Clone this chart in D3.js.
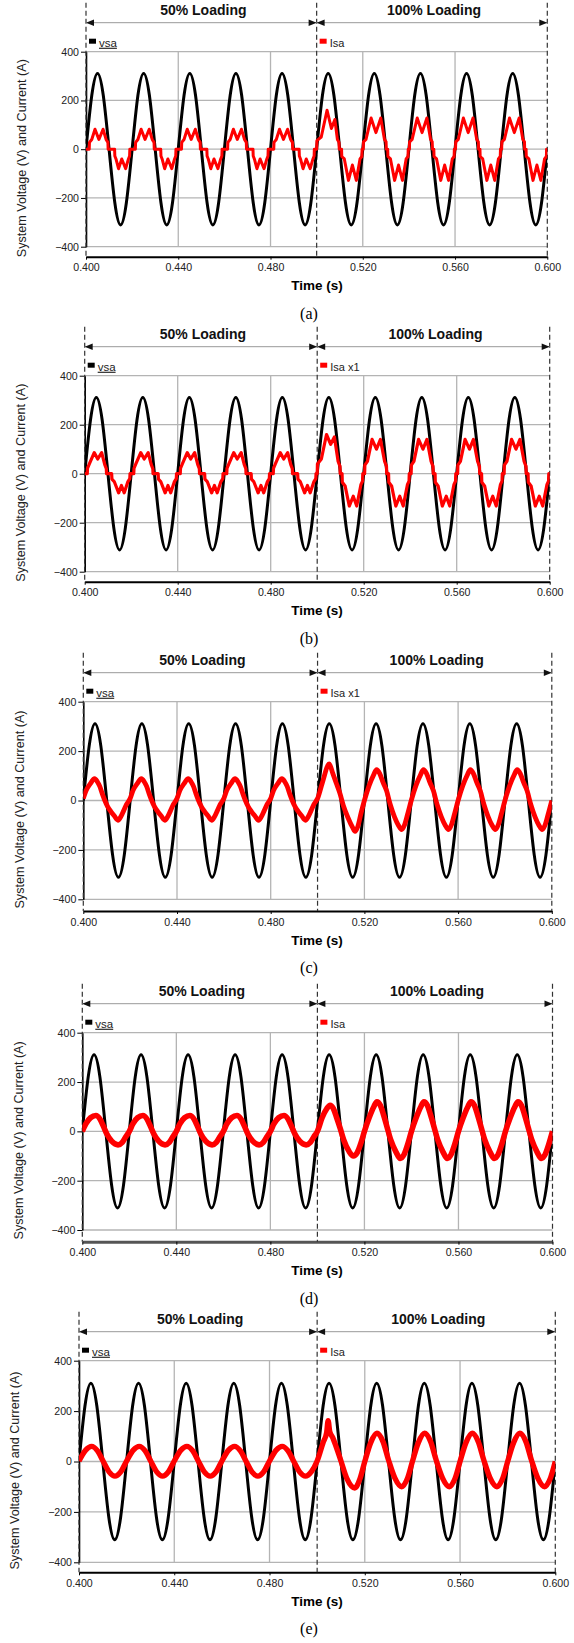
<!DOCTYPE html>
<html>
<head>
<meta charset="utf-8">
<script src="https://cdn.jsdelivr.net/npm/d3@7"></script>
<style>
  body { margin: 0; background: #fff; }
  text { font-family: "Liberation Sans", Arial, sans-serif; }
</style>
</head>
<body>
<div id="fig"></div>
<script>
// ---- data ----
var timeTicks = [0.400, 0.440, 0.480, 0.520, 0.560, 0.600];
var gridTimes = [0.440, 0.480, 0.520, 0.560];
var yTicks = [-400, -200, 0, 200, 400];
var switchTime = 0.5;
var panelLabels = ["(a)", "(b)", "(c)", "(d)", "(e)"];
var currentNames = ["Isa", "Isa x1", "Isa x1", "Isa", "Isa"];
var loadNames = ["50% Loading", "100% Loading"];
var cycleStarts = [0.40, 0.42, 0.44, 0.46, 0.48, 0.50, 0.52, 0.54, 0.56, 0.58];
var cyclePlan = ["half", "half", "half", "half", "half", "step", "full", "full", "full", "full"];

// grid voltage vsa, sampled every 2.5 ms from 0.400 s
var vsaStart = 0.4, vsaStep = 0.0025;
var vsa = [0, 220, 311, 220, 0, -220, -311, -220,
           0, 220, 311, 220, 0, -220, -311, -220,
           0, 220, 311, 220, 0, -220, -311, -220,
           0, 220, 311, 220, 0, -220, -311, -220,
           0, 220, 311, 220, 0, -220, -311, -220,
           0, 220, 311, 220, 0, -220, -311, -220,
           0, 220, 311, 220, 0, -220, -311, -220,
           0, 220, 311, 220, 0, -220, -311, -220,
           0, 220, 311, 220, 0, -220, -311, -220,
           0, 220, 311, 220, 0, -220, -311, -220,
           0];

// source current, one cycle each: [time into cycle (s), current (A)]
var iaA50 = [[0,0],[0.0014,0],[0.0015,28],[0.0025,40],[0.0039,82],[0.0056,40],[0.0074,82],[0.0087,40],[0.0095,28],[0.0096,0],
  [0.0124,0],[0.0125,-28],[0.0130,-40],[0.0141,-80],[0.0155,-40],[0.0172,-80],[0.0184,-40],[0.0189,-28],[0.0190,0],[0.0200,0]];
var iaA100step = [[0,0],[0.0001,35],[0.0020,50],[0.0045,160],[0.0064,85],[0.0079,122],[0.0090,40],[0.0097,28],[0.0098,0],
  [0.0108,0],[0.0109,-30],[0.0120,-40],[0.0138,-128],[0.0155,-65],[0.0172,-128],[0.0188,-40],[0.0196,-30],[0.0197,0],[0.0200,0]];
var iaA100 = [[0,0],[0.0002,0],[0.0003,30],[0.0014,40],[0.0036,128],[0.0057,68],[0.0078,128],[0.0094,40],[0.0101,30],[0.0102,0],
  [0.0108,0],[0.0109,-30],[0.0120,-40],[0.0138,-128],[0.0155,-65],[0.0172,-128],[0.0188,-40],[0.0196,-30],[0.0197,0],[0.0200,0]];

var iaB50 = [[0,0],[0.0011,0],[0.0012,22],[0.0020,40],[0.0041,86],[0.0056,60],[0.0073,86],[0.0086,38],[0.0093,20],[0.0094,0],
  [0.0116,0],[0.0117,-22],[0.0127,-32],[0.0146,-78],[0.0158,-48],[0.0170,-78],[0.0186,-32],[0.0194,-20],[0.0195,0],[0.0200,0]];
var iaB100step = [[0,0],[0.0001,40],[0.0018,60],[0.0040,160],[0.0058,120],[0.0074,150],[0.0090,50],[0.0098,30],[0.0099,0],
  [0.0107,0],[0.0108,-35],[0.0120,-50],[0.0138,-132],[0.0155,-92],[0.0170,-132],[0.0188,-45],[0.0195,-30],[0.0196,0],[0.0200,0]];
var iaB100 = [[0,0],[0.0004,0],[0.0005,35],[0.0016,50],[0.0036,140],[0.0055,100],[0.0072,140],[0.0090,50],[0.0098,30],[0.0099,0],
  [0.0107,0],[0.0108,-35],[0.0120,-50],[0.0138,-132],[0.0155,-92],[0.0170,-132],[0.0188,-45],[0.0195,-30],[0.0196,0],[0.0200,0]];

var iaC50 = [[0,8],[0.0012,40],[0.0030,68],[0.0048,88],[0.0060,76],[0.0070,58],[0.0082,25],[0.0092,0],[0.0104,-25],[0.0118,-45],
  [0.0132,-62],[0.0148,-80],[0.0160,-66],[0.0172,-42],[0.0185,-15],[0.0200,8]];
var iaC100step = [[0,8],[0.0020,70],[0.0050,148],[0.0065,110],[0.0080,70],[0.0095,30],[0.0110,-20],[0.0130,-70],[0.0150,-110],
  [0.0160,-125],[0.0172,-105],[0.0186,-50],[0.0200,0]];
var iaC100 = [[0,0],[0.0020,60],[0.0040,105],[0.0052,125],[0.0065,110],[0.0080,72],[0.0095,38],[0.0110,-15],[0.0128,-65],
  [0.0145,-100],[0.0159,-118],[0.0171,-100],[0.0186,-50],[0.0200,0]];

var iaD50 = [[0,0],[0.0015,30],[0.0035,55],[0.0058,64],[0.0075,50],[0.0090,20],[0.0105,-12],[0.0125,-40],[0.0152,-55],
  [0.0170,-45],[0.0185,-22],[0.0200,0]];
var iaD100step = [[0,0],[0.0020,55],[0.0040,92],[0.0054,106],[0.0068,92],[0.0082,55],[0.0097,12],[0.0112,-35],[0.0135,-82],
  [0.0153,-100],[0.0170,-85],[0.0186,-45],[0.0200,0]];
var iaD100 = [[0,0],[0.0020,55],[0.0040,100],[0.0053,120],[0.0068,105],[0.0082,65],[0.0097,15],[0.0112,-35],[0.0135,-85],
  [0.0152,-110],[0.0168,-95],[0.0185,-50],[0.0200,0]];

var iaE50 = [[0,2],[0.0028,45],[0.0053,60],[0.0078,42],[0.0102,0],[0.0127,-42],[0.0151,-58],[0.0176,-40],[0.0200,2]];
var iaE100step = [[0,2],[0.0025,75],[0.0040,115],[0.0046,162],[0.0053,118],[0.0065,96],[0.0080,58],[0.0100,2],[0.0125,-68],
  [0.0158,-105],[0.0180,-68],[0.0200,0]];
var iaE100 = [[0,0],[0.0025,75],[0.0051,112],[0.0076,80],[0.0100,5],[0.0126,-65],[0.0155,-100],[0.0180,-65],[0.0200,0]];

// ---- layout ----
var width = 574, height = 1643;
var panels = [
  {x0: 86.0, x1: 547.3, y400: 51.7,   ym400: 246.7,  gap: 10.0, shapes: {half: iaA50, step: iaA100step, full: iaA100}, smooth: false, redW: 3.0, axisW: 2},
  {x0: 84.7, x1: 549.7, y400: 375.7,  ym400: 571.7,  gap: 10.0, shapes: {half: iaB50, step: iaB100step, full: iaB100}, smooth: false, redW: 3.2, axisW: 2},
  {x0: 83.3, x1: 551.8, y400: 701.7,  ym400: 899.3,  gap: 11.7, shapes: {half: iaC50, step: iaC100step, full: iaC100}, smooth: true, redW: 4.8, axisW: 2},
  {x0: 82.3, x1: 552.5, y400: 1032.7, ym400: 1230.0, gap: 11.7, shapes: {half: iaD50, step: iaD100step, full: iaD100}, smooth: true, redW: 5.6, axisW: 3},
  {x0: 79.0, x1: 555.3, y400: 1360.7, ym400: 1562.3, gap: 10.0, shapes: {half: iaE50, step: iaE100step, full: iaE100}, smooth: true, redW: 5.4, axisW: 2}
];

var svg = d3.select("#fig").append("svg")
    .attr("width", width)
    .attr("height", height);

var vsaPoints = vsa.map(function(v, i) { return [vsaStart + i * vsaStep, v]; });

function buildCurrent(shapes) {
  var pts = [];
  cyclePlan.forEach(function(kind, i) {
    shapes[kind].forEach(function(d, j) {
      if (i > 0 && j === 0) return;
      pts.push([cycleStarts[i] + d[0], d[1]]);
    });
  });
  return pts;
}

panels.forEach(function(p, k) {
  var x = d3.scaleLinear().domain([0.4, 0.6]).range([p.x0, p.x1]),
      y = d3.scaleLinear().domain([-400, 400]).range([p.ym400, p.y400]),
      xm = x(switchTime),
      axisY = p.ym400 + p.gap,
      arrowY = p.y400 - 29,
      g = svg.append("g");

  // grid
  g.append("g").selectAll("line")
    .data(yTicks)
    .enter().append("line")
      .attr("x1", p.x0).attr("x2", p.x1)
      .attr("y1", y).attr("y2", y)
      .attr("stroke", "#b4b4b4").attr("stroke-width", 1.3);
  g.append("g").selectAll("line")
    .data(gridTimes)
    .enter().append("line")
      .attr("x1", x).attr("x2", x)
      .attr("y1", p.y400).attr("y2", p.ym400)
      .attr("stroke", "#b4b4b4").attr("stroke-width", 1.3);

  // axes
  var ya = g.append("g")
      .attr("transform", "translate(" + p.x0 + ",0)")
      .call(d3.axisLeft(y).tickValues(yTicks).tickSize(5).tickSizeOuter(0).tickPadding(2).tickFormat(d3.format("d")));
  var xa = g.append("g")
      .attr("transform", "translate(0," + axisY + ")")
      .call(d3.axisBottom(x).tickValues(timeTicks).tickSize(3).tickSizeOuter(0).tickPadding(4).tickFormat(d3.format(".3f")));
  [ya, xa].forEach(function(a) {
    a.attr("font-family", "'Liberation Sans', Arial, sans-serif").attr("font-size", 10.6);
    a.selectAll("text").attr("fill", "#222");
  });
  ya.select(".domain").attr("stroke-width", 1.6);
  xa.select(".domain").attr("stroke-width", p.axisW).attr("stroke", p.axisW > 2 ? "#555" : "#000");

  g.append("text")
      .attr("transform", "translate(" + (p.x0 - 64) + "," + (y(0) + 9) + ") rotate(-90)")
      .attr("text-anchor", "middle").attr("dy", "0.35em")
      .attr("font-size", 12.6).attr("fill", "#222")
      .text("System Voltage (V) and Current (A)");
  g.append("text")
      .attr("x", 317).attr("y", axisY + 29).attr("dy", "0.35em")
      .attr("text-anchor", "middle").attr("font-size", 13.5).attr("font-weight", "bold")
      .text("Time (s)");
  g.append("text")
      .attr("x", 309).attr("y", axisY + 56.5).attr("dy", "0.35em")
      .attr("text-anchor", "middle").attr("font-size", 16)
      .style("font-family", "'Liberation Serif', 'Times New Roman', serif")
      .text(panelLabels[k]);

  // loading span markers
  g.append("g").selectAll("line")
    .data([0.4, switchTime, 0.6])
    .enter().append("line")
      .attr("x1", x).attr("x2", x)
      .attr("y1", p.y400 - 49).attr("y2", axisY)
      .attr("stroke", "#333").attr("stroke-width", 1.2).attr("stroke-dasharray", "5,3");
  g.append("line")
      .attr("x1", p.x0).attr("x2", p.x1).attr("y1", arrowY).attr("y2", arrowY)
      .attr("stroke", "#999").attr("stroke-width", 1);
  var heads = [[x(0.4), 1], [xm, -1], [xm, 1], [x(0.6), -1]];
  g.append("g").selectAll("path")
    .data(heads)
    .enter().append("path")
      .attr("d", function(d) {
        return "M" + d[0] + "," + arrowY + "l" + (8 * d[1]) + ",-3.2v6.4z";
      })
      .attr("fill", "#111");
  g.append("g").selectAll("text")
    .data([[0.4, switchTime], [switchTime, 0.6]])
    .enter().append("text")
      .attr("x", function(d) { return (x(d[0]) + x(d[1])) / 2 + 2; })
      .attr("y", p.y400 - 42).attr("dy", "0.35em")
      .attr("text-anchor", "middle").attr("font-size", 14).attr("font-weight", "bold").attr("fill", "#111")
      .text(function(d, i) { return loadNames[i]; });

  // legend
  var ly = p.y400 - 9;
  g.append("rect").attr("x", p.x0 + 3).attr("y", ly - 4).attr("width", 7).attr("height", 5).attr("fill", "#000");
  g.append("text").attr("x", p.x0 + 13).attr("y", ly).attr("dy", "0.35em")
      .attr("font-size", 11.5).attr("fill", "#222").attr("text-decoration", "underline").text("vsa");
  g.append("rect").attr("x", xm + 3).attr("y", ly - 4).attr("width", 7).attr("height", 5).attr("fill", "#f00");
  g.append("text").attr("x", xm + 13).attr("y", ly).attr("dy", "0.35em")
      .attr("font-size", 11).attr("fill", "#222").text(currentNames[k]);

  // waveforms
  var clipId = "clip" + k;
  svg.append("clipPath").attr("id", clipId)
    .append("rect").attr("x", p.x0).attr("y", p.y400 - 10).attr("width", p.x1 - p.x0).attr("height", p.ym400 - p.y400 + 20);
  var line = d3.line().x(function(d) { return x(d[0]); }).y(function(d) { return y(d[1]); });
  var w = g.append("g").attr("clip-path", "url(#" + clipId + ")");
  w.append("path")
      .datum(vsaPoints)
      .attr("d", line.curve(d3.curveNatural))
      .attr("fill", "none").attr("stroke", "#000").attr("stroke-width", 3);
  w.append("path")
      .datum(buildCurrent(p.shapes))
      .attr("d", line.curve(p.smooth ? d3.curveMonotoneX : d3.curveLinear))
      .attr("fill", "none").attr("stroke", "#f00")
      .attr("stroke-width", p.redW).attr("stroke-linejoin", "round");
});
</script>
</body>
</html>
